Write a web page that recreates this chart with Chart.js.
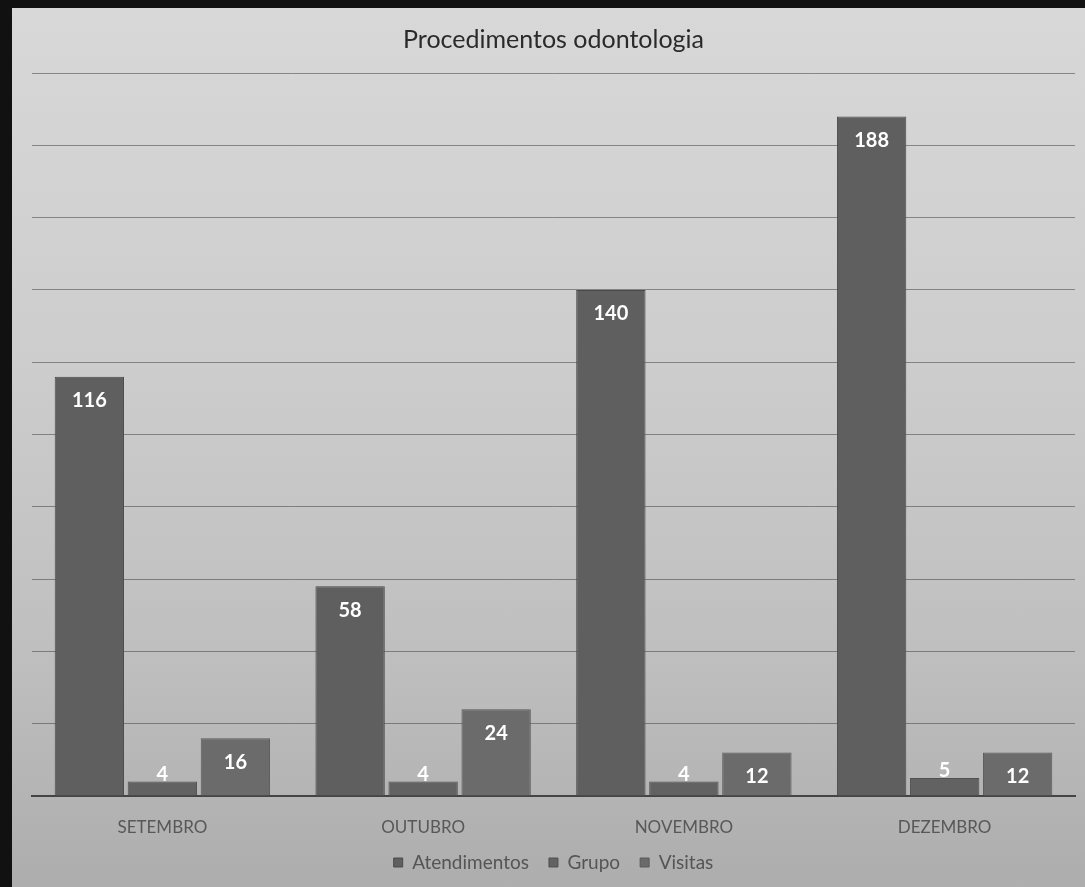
<!DOCTYPE html>
<html>
<head>
<meta charset="utf-8">
<script src="https://cdn.jsdelivr.net/npm/chart.js@4/dist/chart.umd.min.js"></script>
<style>
  html, body { margin: 0; padding: 0; background: #111; }
  #wrap {
    position: absolute; left: 12px; top: 8px; width: 1073px; height: 879px;
    background: linear-gradient(180deg, #d8d8d8 0%, #cdcdcd 40%, #bebebe 75%, #adadad 100%);
  }
</style>
</head>
<body>
<div id="wrap"><canvas id="barChart"></canvas></div>
<script>
// Procedimentos odontologia
const meses = ["SETEMBRO", "OUTUBRO", "NOVEMBRO", "DEZEMBRO"];
const atendimentos = [116, 58, 140, 188];
const grupo = [4, 4, 4, 5];
const visitas = [16, 24, 12, 12];
const yTicks = { min: 0, max: 200, step: 20 };

// labels inside top of bar, above it when bar is too short
const valueLabels = {
    id: 'valueLabels',
    afterDatasetsDraw(chart) {
        const ctx = chart.ctx;
        ctx.save();
        ctx.font = 'bold 20px Lato, "Open Sans", sans-serif';
        ctx.fillStyle = '#ffffff';
        ctx.textAlign = 'center';
        ctx.textBaseline = 'middle';
        chart.data.datasets.forEach((ds, i) => {
            chart.getDatasetMeta(i).data.forEach((bar, j) => {
                const h = bar.base - bar.y;
                let y = bar.y + 24;
                if (h < 30) y = bar.y - 7;
                ctx.fillText(ds.data[j], bar.x, y);
            });
        });
        ctx.restore();
    }
};

// pull the legend a bit closer to the month labels
const legendShift = {
    id: 'legendShift',
    afterLayout(chart) {
        chart.legend.top -= 5;
        chart.legend.bottom -= 5;
    }
};

const chartEl = document.getElementById('barChart');
let chart = new Chart(chartEl, {
    type: 'bar',
    data: {
        labels: meses,
        datasets: [{
            label: 'Atendimentos',
            data: atendimentos,
            backgroundColor: '#5f5f5f',
            borderColor: '#4a4a4a',
            borderWidth: 1
        }, {
            label: 'Grupo',
            data: grupo,
            backgroundColor: '#626262',
            borderColor: '#505050',
            borderWidth: 1
        }, {
            label: 'Visitas',
            data: visitas,
            backgroundColor: '#6b6b6b',
            borderColor: '#5a5a5a',
            borderWidth: 1
        }]
    },
    options: {
        responsive: true,
        maintainAspectRatio: false,
        animation: false,
        categoryPercentage: 0.84,
        barPercentage: 0.95,
        layout: { padding: { top: 17, left: 20, right: 10, bottom: 0 } },
        plugins: {
            title: {
                display: true,
                text: 'Procedimentos odontologia',
                color: '#2a2a2a',
                font: { family: 'Lato, "Open Sans", sans-serif', size: 25, weight: 'normal' },
                padding: { top: 0, bottom: 18 }
            },
            legend: {
                position: 'bottom',
                labels: {
                    color: '#555',
                    font: { family: 'Lato, "Open Sans", sans-serif', size: 19 },
                    boxWidth: 9,
                    boxHeight: 9,
                    padding: 20
                }
            },
            tooltip: { enabled: false }
        },
        scales: {
            x: {
                grid: { display: false },
                border: { color: '#444', width: 2 },
                ticks: {
                    color: '#585858',
                    font: { family: 'Lato, "Open Sans", sans-serif', size: 17 },
                    padding: 13
                },
                afterFit(scale) { scale.height = 42; }
            },
            y: {
                min: yTicks.min,
                max: yTicks.max,
                ticks: { display: false, stepSize: yTicks.step },
                grid: { color: 'rgba(70,70,70,0.55)', lineWidth: 1, drawTicks: false },
                border: { display: false }
            }
        }
    },
    plugins: [valueLabels, legendShift]
});
</script>
</body>
</html>
